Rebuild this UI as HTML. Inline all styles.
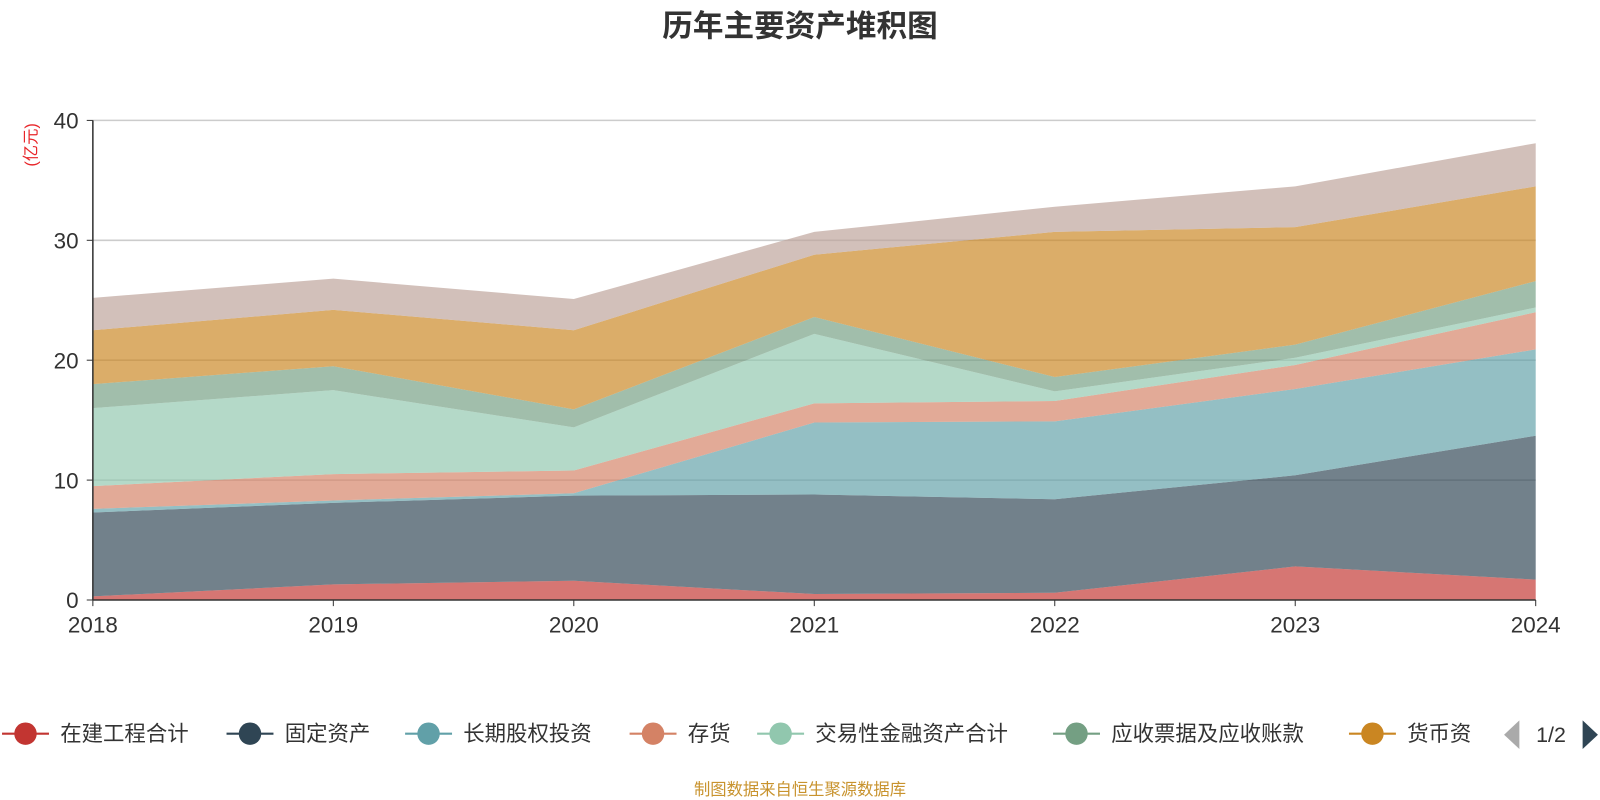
<!DOCTYPE html>
<html><head><meta charset="utf-8">
<style>
body{margin:0;background:#fff;font-family:"Liberation Sans","Noto Sans CJK SC",sans-serif;overflow:hidden}
svg{display:block}
</style></head>
<body>
<svg id="c" width="1600" height="800" xmlns="http://www.w3.org/2000/svg">
<g transform="scale(1.0204)">
<text x="784" y="36" text-anchor="middle" font-size="30" font-weight="bold" fill="#333">历年主要资产堆积图</text>
<text transform="translate(36,142) rotate(-90)" text-anchor="middle" font-size="16" fill="#e8262a">(亿元)</text>
<g id="grid"></g>
<g id="areas"></g>
<g id="axes"></g>
<g id="legend"></g>
<text x="784" y="779" text-anchor="middle" font-size="16" fill="#c8932e">制图数据来自恒生聚源数据库</text>
</g>
</svg>
<script>
const years=["2018","2019","2020","2021","2022","2023","2024"];
const seriesNames=["在建工程合计","固定资产","长期股权投资","存货","交易性金融资产合计","应收票据及应收账款","货币资金","其他"];
const s0=[0.3,1.3,1.6,0.5,0.6,2.8,1.7];
const s1=[7.0,6.8,7.1,8.3,7.8,7.6,12.0];
const s2=[0.3,0.2,0.2,6.0,6.5,7.2,7.2];
const s3=[1.9,2.2,1.9,1.6,1.7,2.0,3.1];
const s4=[6.5,7.0,3.6,5.8,0.8,0.6,0.4];
const s5=[2.0,2.0,1.5,1.4,1.2,1.1,2.2];
const s6=[4.5,4.7,6.6,5.2,12.1,9.8,7.9];
const s7=[2.7,2.6,2.6,1.9,2.1,3.4,3.6];
const yTicks=[0,10,20,30,40];
const series=[s0,s1,s2,s3,s4,s5,s6,s7];
const colors=["#c23531","#2f4554","#61a0a8","#d48265","#91c7ae","#749f83","#ca8622","#bda29a"];
const NS="http://www.w3.org/2000/svg";
const X0=91,X1=1505,Y0=588,Y1=118,YMAX=40;
const xs=i=>X0+(X1-X0)*i/(years.length-1);
const ys=v=>Y0-(Y0-Y1)*v/YMAX;
function mk(t,a,p){const e=document.createElementNS(NS,t);for(const k in a)e.setAttribute(k,a[k]);p.appendChild(e);return e;}
const grid=document.getElementById('grid'),axes=document.getElementById('axes'),areas=document.getElementById('areas');
yTicks.forEach(v=>{
  if(v>0){const l=mk('line',{x1:X0,x2:X1,y1:ys(v),y2:ys(v),stroke:'#ccc','stroke-width':1.5},grid);
  
  }
  const t=mk('text',{x:X0-14,y:ys(v)+8,'text-anchor':'end','font-size':22,fill:'#333'},axes);t.textContent=v;
  
  
  mk('line',{x1:X0-6,x2:X0,y1:ys(v),y2:ys(v),stroke:'#333'},axes);
});
let base=years.map(()=>0);
series.forEach((s,k)=>{
  const top=base.map((b,i)=>b+s[i]);
  let d='M'+years.map((_,i)=>xs(i)+','+ys(top[i])).join('L');
  for(let i=years.length-1;i>=0;i--)d+='L'+xs(i)+','+ys(base[i]);
  const p=mk('path',{d:d+'Z',fill:colors[k],'fill-opacity':0.68,stroke:'none'},areas);
  
  
  base=top;
});
mk('line',{x1:X0,x2:X0,y1:Y1,y2:Y0,stroke:'#333','stroke-width':1.5},axes);
mk('line',{x1:X0,x2:X1,y1:Y0,y2:Y0,stroke:'#333','stroke-width':1.5},axes);
years.forEach((y,i)=>{
  mk('line',{x1:xs(i),x2:xs(i),y1:Y0,y2:Y0+6,stroke:'#333'},axes);
  const t=mk('text',{x:xs(i),y:Y0+32,'text-anchor':'middle','font-size':22,fill:'#333'},axes);t.textContent=y;
  
  
});
const lg=document.getElementById('legend');
const lx=[2,222,397,617,742,1032,1322];
for(let k=0;k<7;k++){
  const g=mk('g',{},lg);
  
  
  const x=lx[k];
  mk('line',{x1:x,x2:x+46,y1:719,y2:719,stroke:colors[k],'stroke-width':2},g);
  mk('circle',{cx:x+23,cy:719,r:11,fill:colors[k]},g);
  const t=mk('text',{x:x+57,y:726,'font-size':21,fill:'#333'},g);t.textContent=k==6?'货币资':seriesNames[k];
}
const pg=mk('polygon',{points:'1489,706 1489,734 1474,720',fill:'#aaa'},lg);


const pt=mk('text',{x:1520,y:727,'text-anchor':'middle','font-size':21,fill:'#333'},lg);pt.textContent='1/2';


const pn=mk('polygon',{points:'1551,706 1551,734 1566,720',fill:'#2f4554'},lg);


</script>
</body></html>
